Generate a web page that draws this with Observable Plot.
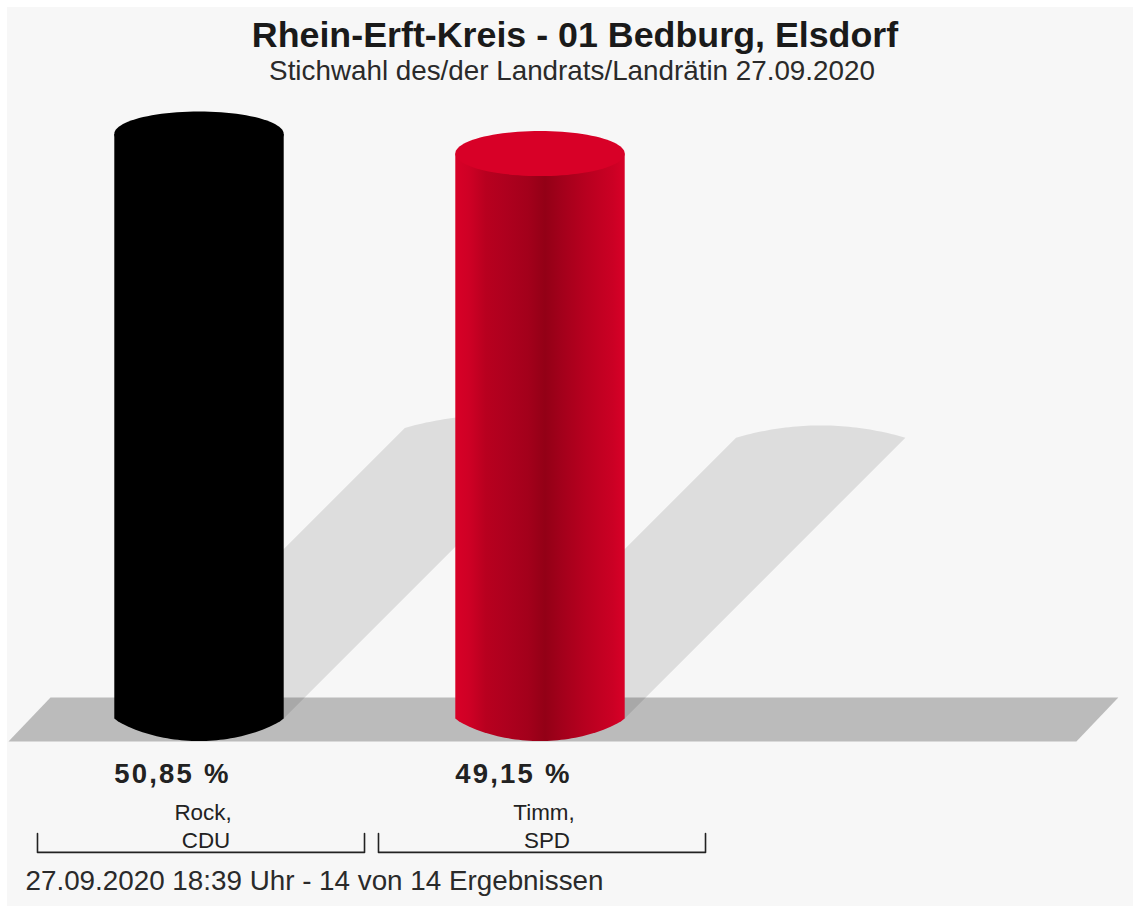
<!DOCTYPE html>
<html lang="de">
<head>
<meta charset="utf-8">
<script src="https://cdn.jsdelivr.net/npm/d3@7"></script>
<script src="https://cdn.jsdelivr.net/npm/@observablehq/plot@0.6"></script>
<style>
  html, body { margin: 0; padding: 0; background: #fff; overflow: hidden; }
  #chart { position: absolute; left: 7px; top: 7px; }
  #chart svg { display: block; background: #f7f7f7; }
  #chart .share-label text, #chart text.share-label, #chart .share-label { letter-spacing: 2.2px; }
</style>
</head>
<body>
<div id="chart"></div>
<script>
const names = ["Rock,", "Timm,"];
const parties = ["CDU", "SPD"];
const shares = [50.85, 49.15];
const shareLabels = ["50,85 %", "49,15 %"];
const capColors = ["#000000", "#d80027"];
const bodyFills = ["#000000", "url(#redBody)"];
const titleText = "Rhein-Erft-Kreis - 01 Bedburg, Elsdorf";
const subtitleText = "Stichwahl des/der Landrats/Landrätin 27.09.2020";
const footerText = "27.09.2020 18:39 Uhr - 14 von 14 Ergebnissen";

// Shape constants, in data units (x: candidate slot, y: percentage points)
const halfWidth = 0.2484, capRy = 1.96, shadowRy = 1.07;
const shearX = 0.01675, shearY = 0.497;
const fontFamily = "'Liberation Sans', Arial, sans-serif";

const arc = (cx, cy, ry, from, to, n = 48) =>
  d3.range(n + 1).map(i => {
    const a = from + (to - from) * i / n;
    return {x: cx + halfWidth * Math.cos(a), y: cy + ry * Math.sin(a)};
  });
// A flatter curve than an ellipse, with visible corners where it meets the sides
const bow = (cx, cy, ry, power, n = 48) =>
  d3.range(n + 1).map(i => {
    const t = -1 + 2 * i / n;
    return {x: cx + halfWidth * t, y: cy + ry * Math.pow(1 - t * t, power)};
  });

const floor = [
  {x: -0.5587, y: -2}, {x: 2.573, y: -2},
  {x: 2.696, y: 1.83}, {x: -0.4355, y: 1.83}, {x: -0.5587, y: -2}
];

const shape = (points, fill, fillOpacity = 1) =>
  Plot.line(points, {x: "x", y: "y", fill, fillOpacity, stroke: "none", curve: "linear"});

const shadows = shares.map((v, i) => {
  const cx = i + v * shearX, cy = v * shearY;
  return [{x: i - halfWidth, y: 0}, ...bow(cx, cy, shadowRy, 1), {x: i + halfWidth, y: 0}];
});
const bodies = shares.map((v, i) => [
  {x: i - halfWidth, y: v},
  ...bow(i, 0, -capRy, 0.85),
  {x: i + halfWidth, y: v}
]);
const caps = shares.map((v, i) => arc(i, v, capRy, 0, 2 * Math.PI, 96));
const bracketOffset = 0.00587;
const brackets = shares.map((v, i) => [
  {x: i + bracketOffset - 0.4795, y: -10}, {x: i + bracketOffset - 0.4795, y: -11.65},
  {x: i + bracketOffset + 0.4795, y: -11.65}, {x: i + bracketOffset + 0.4795, y: -10}
]);

const defs = () => {
  const d = d3.create("svg:defs");
  const g = d.append("linearGradient").attr("id", "redBody")
    .attr("x1", 0).attr("x2", 1).attr("y1", 0).attr("y2", 0);
  [[0, "#d80027"], [0.08, "#cf0025"], [0.18, "#b8001f"], [0.3, "#ae001e"], [0.43, "#a3001b"],
   [0.53, "#930016"], [0.63, "#a3001b"], [0.76, "#b6001f"], [0.93, "#cb0024"], [1, "#d80027"]]
    .forEach(([o, c]) => g.append("stop").attr("offset", o).attr("stop-color", c));
  return d.node();
};

const slots = shares.map((v, i) => i);

const chart = Plot.plot({
  width: 1126,
  height: 899,
  margin: 0,
  style: {background: "#f7f7f7", fontFamily},
  x: {domain: [0, 1], range: [191.5, 532.5], axis: null},
  y: {domain: [0, 50.85], range: [711, 126.5], axis: null},
  marks: [
    defs,
    shape(floor, "#bbbbbb"),
    ...shadows.map(p => shape(p, "#000000", 0.1)),
    ...bodies.map((p, i) => shape(p, bodyFills[i])),
    ...caps.map((p, i) => shape(p, capColors[i])),
    ...brackets.map(p => Plot.line(p, {x: "x", y: "y", stroke: "#222", strokeWidth: 1.6, curve: "linear"})),
    Plot.text([titleText], {frameAnchor: "top", dx: 4.5, dy: 14.5, text: d => d, fontSize: 35.8, fontWeight: "bold", fill: "#1a1a1a", lineAnchor: "top", fontFamily}),
    Plot.text([subtitleText], {frameAnchor: "top", dx: 1.5, dy: 53, text: d => d, fontSize: 27.8, fill: "#2a2a2a", lineAnchor: "top", fontFamily}),
    Plot.text(slots, {x: i => i - halfWidth, y: () => -4.85, text: i => shareLabels[i], textAnchor: "start", fontSize: 27.5, fontWeight: "bold", fill: "#222", fontFamily, className: "share-label"}),
    Plot.text(slots, {x: i => i, y: () => -8.18, dx: 4, text: i => names[i], fontSize: 22.4, fill: "#222", fontFamily}),
    Plot.text(slots, {x: i => i, y: () => -10.6, dx: 7, text: i => parties[i], fontSize: 22.4, fill: "#222", fontFamily}),
    Plot.text([footerText], {frameAnchor: "bottom-left", dx: 18, dy: -17, text: d => d, fontSize: 27.8, fill: "#2a2a2a", fontFamily})
  ]
});
document.getElementById("chart").appendChild(chart);
</script>
</body>
</html>
